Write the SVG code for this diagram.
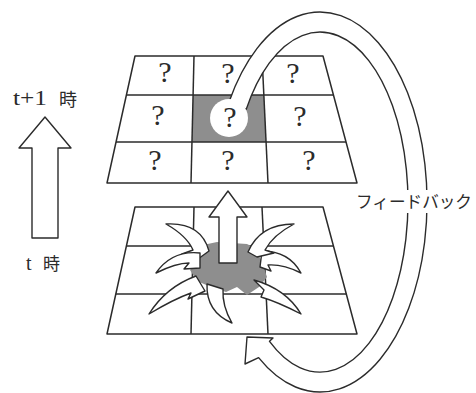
<svg xmlns="http://www.w3.org/2000/svg" width="476" height="393" viewBox="0 0 476 393">
  <style>
    .ln { fill: none; stroke: #2b2b2b; stroke-width: 1.5; stroke-linejoin: round; }
    .wf { fill: #ffffff; stroke: #2b2b2b; stroke-width: 1.4; stroke-linejoin: round; }
    .shade { fill: #8e8e8e; stroke: none; }
    .q { font-family: "Liberation Serif", "DejaVu Serif", serif; font-size: 30px; fill: #2b2b2b; text-anchor: middle; }
    .lat { font-family: "Liberation Serif", "DejaVu Serif", serif; font-size: 20px; fill: #2b2b2b; }
    .jp { font-family: "Noto Sans CJK JP", "Noto Sans", sans-serif; fill: #2b2b2b; }
  </style>

  <!-- grid at time t+1 -->
  <g id="grid-next">
    <polygon class="shade" points="193,95 264,95 266,142 192,142"/>
    <polygon class="ln" points="135,56 323,56 357,183 107,183"/>
    <line class="ln" x1="126.4" y1="95" x2="333.4" y2="95"/>
    <line class="ln" x1="116" y1="142" x2="346" y2="142"/>
    <line class="ln" x1="194" y1="56" x2="191" y2="183"/>
    <line class="ln" x1="262" y1="56" x2="268" y2="183"/>
  </g>

  <!-- grid at time t -->
  <g id="grid-now">
    <polygon class="ln" points="135,207 323,207 357,334 107,334"/>
    <line class="ln" x1="126.4" y1="246" x2="333.4" y2="246"/>
    <line class="ln" x1="115.8" y1="294" x2="346.3" y2="294"/>
    <line class="ln" x1="194" y1="207" x2="191" y2="334"/>
    <line class="ln" x1="262" y1="207" x2="268" y2="334"/>
  </g>

  <!-- spreading blob with claws -->
  <g id="spread">
    <path class="shade" d="M203,245 L217,242 L247,244 L255,248 L262,262 L267,277 L259,287 L247,295 L237,287 L226,292 L211,287 L197,281 L190,270 L197,262 L202,255 Z"/>
    <path class="wf" d="M209,251 Q201,222 166,224 Q187,236 193,250 L182,254 L198,259 Z"/>
    <path class="wf" d="M200,253 Q172,250 156,273 Q176,263 189,263 L184,269 L200,268 Z"/>
    <path class="wf" d="M196,276 Q166,287 149,314 Q174,299 191,293 L188,299 L205,291 Z"/>
    <path class="wf" d="M207,284 Q206,312 232,323 Q222,306 223,289 Z"/>
    <path class="wf" d="M254,280 Q286,289 301,314 Q278,302 261,297 L264,290 Z"/>
    <path class="wf" d="M262,251 Q289,251 301,273 Q283,264 268,265 L271,271 L260,267 Z"/>
    <path class="wf" d="M248,252 Q260,224 294,224 Q273,235 265,250 L274,253 L257,257 Z"/>
  </g>

  <!-- time legend -->
  <g id="time-legend">
    <polygon class="wf" points="45,117 71,148 58,148 58,238 32,238 32,148 19,148"/>
    <text class="lat" x="13" y="105" textLength="34" lengthAdjust="spacingAndGlyphs">t+1</text>
    <text class="jp" x="59" y="106" font-size="18">時</text>
    <text class="lat" x="26" y="270">t</text>
    <text class="jp" x="43" y="270" font-size="17">時</text>
  </g>

  <g id="connectors">
    <!-- upward transition arrow -->
    <polygon class="wf" points="228,191 247,217 237,217 237,263 219,263 219,217 209,217"/>
    <!-- feedback loop band: outer and inner elliptical edges around (320,202) -->
    <path class="wf" d="M229.3,101.3 A107 190 0 1 1 258.6,357.6 L245,364 L247,337 L273,338 L269.5,341.3 A88 170 0 1 0 246.2,109.4 Z"/>
    <circle cx="229" cy="118" r="19" fill="#ffffff"/>
  </g>

  <!-- unknown states -->
  <g id="unknowns">
    <text class="q" x="165" y="82">?</text>
    <text class="q" x="228" y="83">?</text>
    <text class="q" x="293" y="83">?</text>
    <text class="q" x="158" y="125">?</text>
    <text class="q" x="230" y="127">?</text>
    <text class="q" x="300" y="126">?</text>
    <text class="q" x="155" y="170">?</text>
    <text class="q" x="228" y="170">?</text>
    <text class="q" x="309" y="170">?</text>
  </g>

  <g id="feedback-label">
    <rect x="400" y="190" width="34" height="23" fill="#ffffff"/>
    <text class="jp" x="356" y="208" font-size="17" textLength="116" lengthAdjust="spacingAndGlyphs">フィードバック</text>
  </g>
</svg>
